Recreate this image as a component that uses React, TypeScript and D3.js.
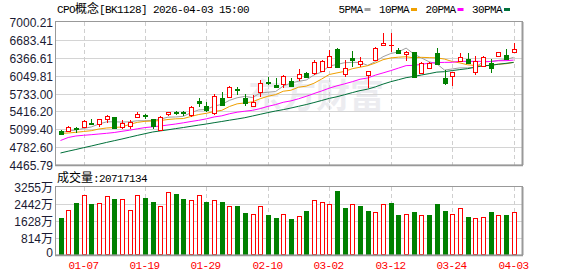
import React from "react";
import * as d3 from "d3";

// ---------- data ----------
const dates = [
  "12-31", "01-05", "01-06", "01-07", "01-08", "01-09", "01-12", "01-13", "01-14", "01-15",
  "01-16", "01-19", "01-20", "01-21", "01-22", "01-23", "01-26", "01-27", "01-28", "01-29",
  "01-30", "02-02", "02-03", "02-04", "02-05", "02-06", "02-09", "02-10", "02-11", "02-12",
  "02-13", "02-24", "02-25", "02-26", "02-27", "03-02", "03-03", "03-04", "03-05", "03-06",
  "03-09", "03-10", "03-11", "03-12", "03-13", "03-16", "03-17", "03-18", "03-19", "03-20",
  "03-23", "03-24", "03-25", "03-26", "03-27", "03-30", "03-31", "04-01", "04-02", "04-03",
];
const opens = [
  5073.7, 5063.1, 5112.7, 5134.0, 5210.2, 5183.6, 5272.2, 5311.2, 5139.3, 5157.0,
  5311.2, 5343.1, 5275.7, 5086.1, 5369.7, 5396.3, 5399.8, 5360.8, 5608.9, 5516.8,
  5387.4, 5662.1, 5665.7, 5821.6, 5647.9, 5511.5, 5764.9, 5942.1, 5883.7, 5901.4,
  5963.4, 6002.4, 6101.6, 6096.3, 6131.8, 6197.4, 6516.4, 6078.6, 6362.2, 6250.5,
  6055.6, 6317.9, 6597.9, 6589.0, 6504.0, 6427.8, 6459.7, 6096.3, 6179.6, 6445.5,
  6002.4, 6052.0, 6314.3, 6339.1, 6119.4, 6220.4, 6268.3, 6397.6, 6415.3, 6473.8,
];
const highs = [
  5086.1, 5157.0, 5134.0, 5254.5, 5281.1, 5281.1, 5343.1, 5316.5, 5254.5, 5254.5,
  5399.8, 5375.0, 5289.9, 5334.2, 5405.1, 5422.8, 5428.2, 5502.6, 5644.4, 5591.2,
  5733.0, 5764.9, 5857.1, 5853.5, 5724.1, 5697.6, 5972.3, 6020.1, 6007.7, 6060.9,
  6002.4, 6161.9, 6114.1, 6326.7, 6321.4, 6504.0, 6544.7, 6326.7, 6486.2, 6379.9,
  6140.6, 6548.3, 6799.9, 6796.4, 6534.1, 6486.2, 6468.5, 6291.3, 6300.1, 6534.1,
  6149.5, 6122.9, 6445.5, 6445.5, 6397.6, 6388.8, 6339.1, 6468.5, 6521.7, 6622.7,
];
const lows = [
  5006.4, 5059.5, 5032.9, 5112.7, 5174.7, 5139.3, 5219.0, 5112.7, 5095.0, 5103.8,
  5307.6, 5286.4, 5103.8, 5077.2, 5325.4, 5352.0, 5339.6, 5316.5, 5499.1, 5399.8,
  5352.0, 5520.3, 5653.3, 5706.4, 5511.5, 5502.6, 5676.3, 5883.7, 5839.3, 5830.5,
  5857.1, 5963.4, 6020.1, 6060.9, 6114.1, 6193.8, 6202.7, 6020.1, 6202.7, 6202.7,
  5830.5, 6309.0, 6592.6, 6468.5, 6433.1, 6309.0, 6016.6, 6078.6, 6167.2, 6247.0,
  5883.7, 5865.9, 6309.0, 6255.8, 6060.9, 6202.7, 6101.6, 6388.8, 6335.6, 6468.5,
];
const closes = [
  5015.2, 5139.3, 5103.8, 5240.3, 5201.3, 5275.7, 5328.9, 5116.2, 5210.2, 5227.9,
  5369.7, 5325.4, 5157.0, 5316.5, 5399.8, 5387.4, 5382.1, 5484.9, 5555.8, 5440.6,
  5688.7, 5529.2, 5842.9, 5786.2, 5559.3, 5591.2, 5924.4, 5919.1, 5842.9, 6043.2,
  5865.9, 6073.3, 6030.8, 6291.3, 6309.0, 6397.6, 6208.0, 6190.3, 6317.9, 6303.7,
  6137.1, 6539.4, 6628.0, 6599.7, 6445.5, 6473.8, 6020.1, 6273.6, 6268.3, 6255.8,
  5924.4, 6114.1, 6374.6, 6268.3, 6314.3, 6374.6, 6176.1, 6463.2, 6339.1, 6516.4,
];
const prevClose = 5070.0;
// volume in 万
const volumes = [
  1762, 2143, 2477, 2890, 2429, 2509, 2810, 2667, 2699, 2143,
  2890, 2715, 2525, 2334, 3033, 2906, 2667, 2652, 2890, 2525,
  2652, 2525, 2334, 2334, 2001, 1985, 2334, 1905, 1762, 1953,
  1715, 1889, 2096, 2652, 2556, 2461, 3049, 2239, 2461, 2334,
  2096, 2080, 2461, 2477, 1905, 1953, 2048, 1905, 1905, 2429,
  2096, 1953, 2270, 1810, 1762, 1810, 2048, 1905, 1905, 2071.7,
];
// moving-average values before their window is filled
const ma5Lead = [5041.8, 5068.4, 5086.1, 5112.7];
const ma10Lead = [5024.1, 5032.9, 5045.3, 5059.5, 5073.7, 5103.8, 5121.6, 5130.4, 5139.3];
const ma20Lead = [
  4900.0, 4953.2, 4979.8, 4992.2, 5002.8, 5015.2, 5027.6, 5041.8, 5063.1, 5082.6,
  5107.4, 5128.6, 5142.8, 5157.0, 5174.7, 5192.4, 5213.7, 5236.8, 5258.0,
];
const ma30Lead = [
  4678.5, 4710.4, 4740.5, 4772.4, 4802.5, 4834.4, 4866.3, 4896.5, 4926.6, 4958.5,
  4990.4, 5020.5, 5050.7, 5070.2, 5089.7, 5110.9, 5130.4, 5151.7, 5173.0, 5192.4,
  5215.5, 5236.8, 5259.8, 5281.1, 5304.1, 5334.2, 5364.4, 5394.5, 5422.8,
];

const priceTickLabels = ["7000.21", "6683.41", "6366.61", "6049.81", "5733.00", "5416.20", "5099.40", "4782.60", "4465.79"];
const volTickValues = [3255, 2442, 1628, 814, 0];
const volTickLabels = ["3255万", "2442万", "1628万", "814万", "0"];
const dateLabels = ["01-07", "01-19", "01-29", "02-10", "03-02", "03-12", "03-24", "04-03"];
const maNames = ["5PMA", "10PMA", "20PMA", "30PMA"];
const maColors = ["#a0a0a0", "#f0a000", "#ff00ff", "#00703a"];
const titleParts = ["CPO", "概念", "[BK1128] 2026-04-03 15:00"];
const volTitle = ["成交量", ":20717134"];

// ---------- helpers ----------
function movingAvg(n: number, lead: number[]) {
  return closes.map((_, i) => {
    if (i < n - 1) return lead[i];
    let s = 0;
    for (let k = i - n + 1; k <= i; k++) s += closes[k];
    return s / n;
  });
}
const maSeries = [movingAvg(5, ma5Lead), movingAvg(10, ma10Lead), movingAvg(20, ma20Lead), movingAvg(30, ma30Lead)];

const W = 578, H = 276;
const L = 55, R = 522, PT = 22, PB = 165, VT = 187, VB = 255;
const RED = "#ff0000", GREEN = "#008000";
const MONO = "'Liberation Mono', 'DejaVu Sans Mono', monospace";
const CJK = "'Noto Sans CJK SC', sans-serif";
const AXISF = "'Liberation Sans', Arial, sans-serif";

export default function App() {
  const yP = d3.scaleLinear().domain([4465.79, 7000.21]).range([PB, PT]);
  const yV = d3.scaleLinear().domain([0, 3255]).range([VB, VT]);
  const x = d3.scaleBand<string>().domain(dates).range([56.66, 517.46]).padding(0);
  const cx = (i: number) => (x(dates[i]) as number) + x.bandwidth() / 2;
  const px = (i: number) => Math.round(cx(i));

  const line = d3.line<number>().x((_, i) => cx(i)).y((v) => yP(v));

  const gridY = priceTickLabels.map((t) => Math.round(yP(parseFloat(t))) + 0.5);
  const vGridY = volTickValues.map((v) => Math.round(yV(v)) + 0.5);
  const vLines = dateLabels.map((d) => px(dates.indexOf(d)) + 0.5);

  const candles = dates.map((d, i) => {
    const o = opens[i], c = closes[i], hi = highs[i], lo = lows[i];
    const up = c >= o;
    const col = up ? RED : GREEN;
    const X = px(i);
    const top = Math.round(yP(Math.max(o, c)));
    const bot = Math.round(yP(Math.min(o, c)));
    const yh = Math.round(yP(hi));
    const yl = Math.round(yP(lo));
    const els: any[] = [];
    if (yh < top) els.push(<line key="h" x1={X + 0.5} x2={X + 0.5} y1={yh} y2={top} stroke={col} strokeWidth={1} />);
    if (yl > bot) els.push(<line key="l" x1={X + 0.5} x2={X + 0.5} y1={bot} y2={yl} stroke={col} strokeWidth={1} />);
    if (bot - top < 1.5) {
      els.push(<rect key="b" x={X - 2} y={top} width={5} height={Math.max(1, bot - top + 1)} fill={col} />);
    } else if (up) {
      els.push(<rect key="b" x={X - 1.5} y={top + 0.5} width={4} height={bot - top} fill="#fff" stroke={col} strokeWidth={1} />);
    } else {
      els.push(<rect key="b" x={X - 2} y={top} width={5} height={bot - top + 1} fill={col} />);
    }
    return <g key={d}>{els}</g>;
  });

  const volBars = dates.map((d, i) => {
    const pc = i === 0 ? prevClose : closes[i - 1];
    const down = closes[i] < pc;
    const X = px(i);
    const top = Math.round(yV(volumes[i]));
    if (down) return <rect key={d} x={X - 2} y={top} width={5} height={VB - top} fill={GREEN} />;
    return <rect key={d} x={X - 1.5} y={top + 0.5} width={4} height={VB - top - 1} fill="#fff" stroke={RED} strokeWidth={1} />;
  });

  // legend layout
  let lx = 338.5;
  const legend = maNames.map((n, k) => {
    const tx = lx;
    const w = n.length * 6;
    const dx = tx + w + 2;
    lx = dx + 6 + 8.5;
    return (
      <g key={n}>
        <text x={tx} y={13} fontFamily={MONO} fontSize={11} letterSpacing={-0.6} fill="#000">{n}</text>
        <rect x={dx} y={8} width={6} height={3} fill={maColors[k]} />
      </g>
    );
  });

  return (
    <svg width={W} height={H} style={{ position: "absolute", left: 0, top: 0, background: "#fff" }}>
      <rect x={0} y={0} width={W} height={H} fill="#fff" />
      {/* watermark */}
      <text x={248} y={108} fontFamily={CJK} fontSize={34} fontWeight="bold" fill="#ececf0">东方财富</text>

      {/* title */}
      <text x={57} y={13} fill="#000">
        <tspan fontFamily={MONO} fontSize={11} letterSpacing={-0.6}>{titleParts[0]}</tspan>
        <tspan fontFamily={CJK} fontSize={12} letterSpacing={0}>{titleParts[1]}</tspan>
        <tspan fontFamily={MONO} fontSize={11} letterSpacing={-0.6}>{titleParts[2]}</tspan>
      </text>
      {legend}

      {/* price grid */}
      {gridY.slice(1, -1).map((y, k) => (
        <line key={k} x1={L} x2={R} y1={y} y2={y} stroke="#d4d4d4" strokeWidth={1} />
      ))}
      {vLines.map((xx, k) => (
        <line key={k} x1={xx} x2={xx} y1={PT} y2={PB} stroke="#cfcfcf" strokeWidth={1} strokeDasharray="4,3" />
      ))}
      {/* volume grid */}
      {vGridY.slice(1, -1).map((y, k) => (
        <line key={k} x1={L} x2={R} y1={y} y2={y} stroke="#d4d4d4" strokeWidth={1} />
      ))}
      {vLines.map((xx, k) => (
        <line key={k} x1={xx} x2={xx} y1={VT} y2={VB} stroke="#cfcfcf" strokeWidth={1} strokeDasharray="4,3" />
      ))}

      {/* MA lines */}
      {maSeries.map((s, k) => (
        <path key={k} d={line(s) as string} fill="none" stroke={maColors[k]} strokeWidth={1} />
      ))}
      {candles}
      {volBars}

      {/* frames */}
      <rect x={L + 0.5} y={PT - 0.5} width={R - L} height={PB - PT + 0.5} fill="none" stroke="#999" strokeWidth={1} />
      <line x1={R + 0.5} x2={R + 0.5} y1={PT} y2={PB} stroke="#999" strokeWidth={2} />
      <line x1={L} x2={R + 1} y1={PB + 0.5} y2={PB + 0.5} stroke="#999" strokeWidth={1.5} />
      <rect x={L + 0.5} y={VT - 0.5} width={R - L} height={VB - VT + 0.5} fill="none" stroke="#999" strokeWidth={1} />
      <line x1={R + 0.5} x2={R + 0.5} y1={VT} y2={VB} stroke="#999" strokeWidth={2} />
      <line x1={L} x2={R + 1} y1={VB + 0.5} y2={VB + 0.5} stroke="#999" strokeWidth={1.5} />

      {/* price axis labels */}
      {priceTickLabels.map((t, k) => (
        <text key={t} x={53} y={gridY[k] + 4} textAnchor="end" fontFamily={AXISF} fontSize={12} fill="#1a1a33">{t}</text>
      ))}
      {/* volume labels */}
      <text x={57} y={181.5} fill="#000">
        <tspan fontFamily={CJK} fontSize={12}>{volTitle[0]}</tspan>
        <tspan fontFamily={MONO} fontSize={11} letterSpacing={-0.6}>{volTitle[1]}</tspan>
      </text>
      {volTickLabels.map((t, k) => (
        <text key={t} x={53} y={k === volTickLabels.length - 1 ? 257 : vGridY[k] + 4} textAnchor="end" fill="#1a1a33">
          <tspan fontFamily={AXISF} fontSize={12}>{t.replace("万", "")}</tspan>
          {t.includes("万") ? <tspan fontFamily={CJK} fontSize={12}>万</tspan> : null}
        </text>
      ))}
      {/* date labels */}
      {dateLabels.map((d, k) => (
        <text key={d} x={vLines[k] - 1} y={269} textAnchor="middle" fontFamily={MONO} fontSize={11} letterSpacing={-0.6} fill={RED}>{d}</text>
      ))}
    </svg>
  );
}
